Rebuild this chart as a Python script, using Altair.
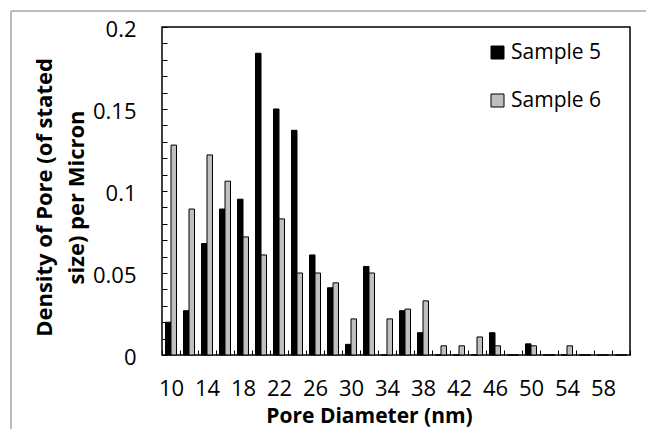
import altair as alt
import pandas as pd

PORE_DIAMETER = [10, 12, 14, 16, 18, 20, 22, 24, 26, 28, 30, 32, 34, 36, 38,
                 40, 42, 44, 46, 48, 50, 52, 54, 56, 58, 60]
SAMPLE_5 = [0.020, 0.027, 0.068, 0.089, 0.095, 0.184, 0.150, 0.137, 0.061, 0.041,
            0.0065, 0.054, 0.0, 0.027, 0.0136, 0.0, 0.0, 0.0, 0.0136, 0.0,
            0.0068, 0.0, 0.0, 0.0, 0.0, 0.0]
SAMPLE_6 = [0.128, 0.089, 0.122, 0.106, 0.072, 0.061, 0.083, 0.050, 0.050, 0.044,
            0.022, 0.050, 0.022, 0.028, 0.033, 0.0056, 0.0056, 0.011, 0.0056, 0.0,
            0.0056, 0.0, 0.0056, 0.0, 0.0, 0.0]
SERIES = ["Sample 5", "Sample 6"]
COLORS = ["#000000", "#BFBFBF"]
Y_TICKS = [0.00, 0.01, 0.02, 0.03, 0.04, 0.05, 0.06, 0.07, 0.08, 0.09, 0.10,
           0.11, 0.12, 0.13, 0.14, 0.15, 0.16, 0.17, 0.18, 0.19, 0.20]

rows = []
for d, a, b in zip(PORE_DIAMETER, SAMPLE_5, SAMPLE_6):
    rows.append({"d": d, "series": SERIES[0], "v": a})
    rows.append({"d": d, "series": SERIES[1], "v": b})
df = pd.DataFrame(rows)

W, H = 468, 328
FONT = "Open Sans"

bars = alt.Chart(df).mark_bar(stroke="black", strokeWidth=1).encode(
    x=alt.X(
        "d:O", sort=PORE_DIAMETER,
        scale=alt.Scale(paddingInner=0, paddingOuter=0),
        axis=alt.Axis(
            title="Pore Diameter (nm)", labelAngle=0,
            labelExpr="(datum.value - 10) % 4 == 0 ? datum.label : ''",
            tickBand="extent", tickSize=5, offset=-5, domain=False,
            labelPadding=23, labelFontSize=22, labelColor="black",
            tickColor="black", tickWidth=1,
            titleFontSize=21, titleFontWeight="bold", titleColor="black",
            titlePadding=6, titleX=207,
        ),
    ),
    xOffset=alt.XOffset("series:N", sort=SERIES,
                        scale=alt.Scale(paddingInner=0, paddingOuter=0.636)),
    y=alt.Y(
        "v:Q", scale=alt.Scale(domain=[0, 0.2], nice=False),
        axis=alt.Axis(
            values=Y_TICKS,
            labelExpr="round(datum.value * 100) % 5 == 0 ? format(datum.value, '.2~f') : ''",
            tickSize=5, offset=-5, domain=False, grid=False,
            labelPadding=26, labelFontSize=22, labelColor="black", labelOffset=2,
            tickColor="black", tickWidth=1,
            title=["Density of Pore (of stated", "size) per Micron"],
            titleFontSize=22, titleFontWeight="bold", titleColor="black",
            titleLineHeight=32, titlePadding=4, titleY=170,
        ),
    ),
    color=alt.Color(
        "series:N", sort=SERIES,
        scale=alt.Scale(domain=SERIES, range=COLORS),
        legend=alt.Legend(
            title=None, orient="none", legendX=325, legendY=15,
            symbolType="square", symbolSize=169, symbolStrokeColor="black",
            symbolStrokeWidth=1, labelFontSize=21, labelColor="black",
            rowPadding=26, labelOffset=3, padding=0,
        ),
    ),
)

frame_data = pd.DataFrame({"k": [0]})
top_line = alt.Chart(frame_data).mark_rule(color="#A6A6A6", strokeWidth=1.5).encode(
    x=alt.value(-151), x2=alt.value(W + 200), y=alt.value(-16)
)
left_line = alt.Chart(frame_data).mark_rule(color="#A6A6A6", strokeWidth=1.5).encode(
    x=alt.value(-151), y=alt.value(-16), y2=alt.value(H + 200)
)

chart = alt.layer(bars, top_line, left_line).properties(
    width=W, height=H,
    autosize=alt.AutoSizeParams(type="none"),
    padding={"left": 154, "top": 19, "right": 16, "bottom": 74},
).configure(font=FONT).configure_view(stroke="black", strokeWidth=1.5)

chart.save("out.html", embed_options={"renderer": "svg", "actions": False})
